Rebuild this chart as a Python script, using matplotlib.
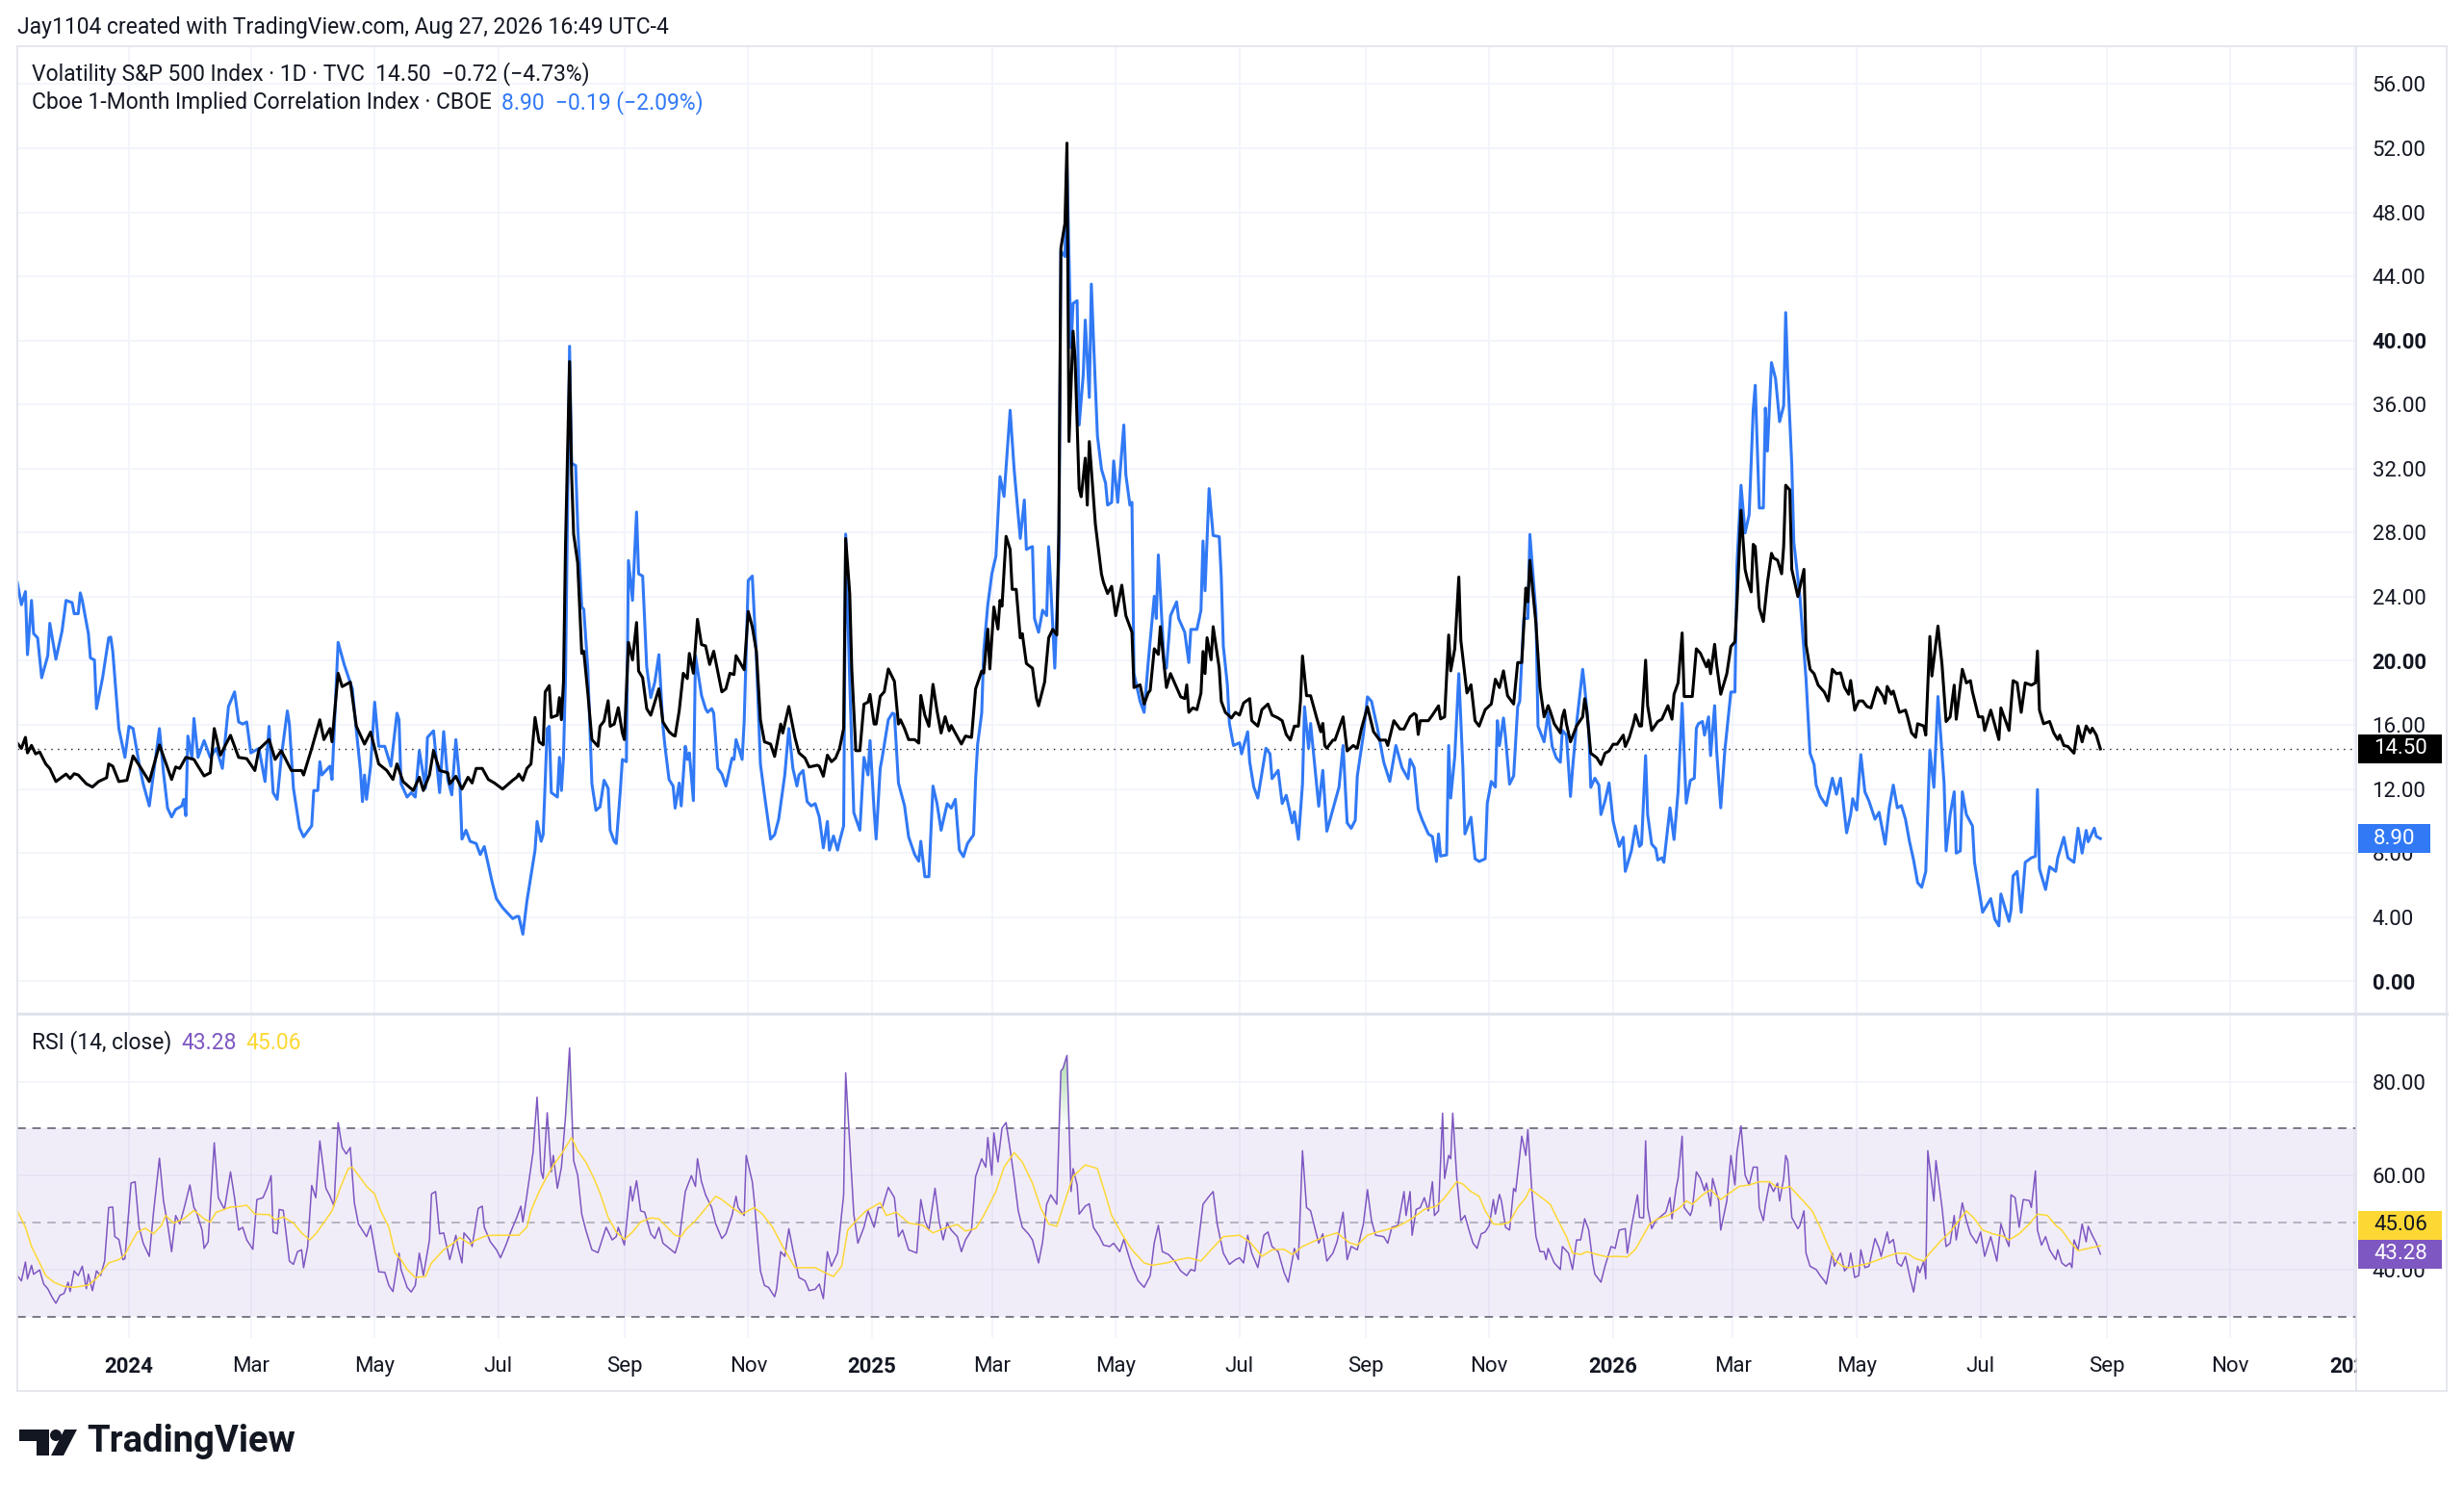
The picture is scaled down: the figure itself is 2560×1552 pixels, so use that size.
import numpy as np
import pandas as pd
import matplotlib
matplotlib.use("Agg")
import matplotlib.pyplot as plt
import matplotlib.dates as mdates
from matplotlib.patches import Rectangle, Polygon, Ellipse
from matplotlib.lines import Line2D
from matplotlib.path import Path
from matplotlib.colors import LinearSegmentedColormap

# all series: x = days counted from 2024-01-01
vix_days = [-55, -53, -51, -50, -48, -46, -44, -41, -39, -36,
            -31, -29, -27, -25, -21, -18, -15, -11, -10, -8,
            -5, -1, 2, 6, 10, 15, 21, 23, 25, 28,
            32, 34, 37, 40, 42, 45, 50, 54, 58, 62,
            64, 69, 72, 75, 80, 85, 86, 90, 94, 96,
            99, 100, 103, 105, 109, 112, 116, 119, 123, 127,
            130, 132, 135, 140, 143, 145, 148, 150, 153, 157,
            158, 161, 164, 167, 169, 171, 174, 177, 180, 184,
            189,
            191, 192, 194, 196, 198, 200, 202, 204, 205, 207,
            208, 211, 212, 213, 214, 215, 217, 218, 219, 221,
            223, 224, 226, 228, 231, 232, 234, 236, 237, 239,
            241, 243, 244, 246, 248, 250, 251, 253, 255, 257,
            261, 263, 266, 268, 269, 271, 273, 275, 276, 278,
            280, 282, 284, 286, 288, 292, 294, 296, 298, 299,
            303, 305, 307, 309, 311, 313, 316, 318, 321, 322,
            325, 328, 330, 333, 335, 339, 340, 342, 344, 346,
            348, 350, 352, 353, 355, 356, 358, 360, 362, 364,
            365, 367, 368, 370, 372, 374, 377, 379, 380, 382,
            384, 387, 389, 390, 392, 394, 396, 398, 400, 402,
            404, 405, 407, 410, 412, 415, 417, 420, 421, 423,
            424, 426, 428, 429, 430, 432, 434, 435, 437, 439,
            440, 442, 444,
            445, 447, 448, 451, 453, 455, 457, 458, 459, 461,
            462, 463, 465, 466, 468, 469, 471, 472, 473, 476,
            479, 480, 482, 484, 486, 489, 491, 494, 495, 498,
            500, 502, 503, 505, 507, 508, 510, 511, 513, 516,
            518, 520, 521, 522, 524, 526, 528, 529, 530, 531,
            533, 534, 537, 538, 540, 543, 545, 547, 549, 552,
            553, 556, 558, 561, 563, 566, 568, 570, 572, 574,
            576, 577, 578, 580, 582, 585, 587, 588, 589, 590,
            593, 594, 598, 600, 603, 605, 607, 610, 613, 616,
            619, 620, 623, 626, 628, 631, 633, 634, 635, 636,
            640, 642, 645, 646, 648, 650, 651, 653, 655, 656,
            659, 661, 663, 665, 668, 671, 673, 675, 677, 679,
            682, 684, 686, 688, 689, 690, 693, 695,
            697, 699, 700, 702, 705, 706, 707, 708, 710, 713,
            716, 717, 718, 720, 723, 725, 727, 729, 731, 733,
            736, 737, 739, 741, 742, 744, 745, 747, 748, 750,
            753, 755, 758, 760, 761, 763, 765, 766, 769, 770,
            772, 774, 777, 778, 779, 781, 782, 784, 787, 789,
            791, 792, 794, 796, 797, 799, 800, 801, 803, 805,
            807, 809, 810, 812, 814, 815, 816, 818, 819, 822,
            825, 826, 828, 830, 832, 835, 837, 839, 841, 843,
            845, 847, 848, 850, 852, 854, 856, 858, 861, 864,
            865, 866, 868, 869, 872, 875, 876, 878, 880, 881,
            884, 885, 887, 888, 891, 893, 895, 897, 899, 900,
            903, 905, 907, 908, 911, 913, 914, 917, 921, 922,
            924, 926, 928, 930, 932, 934, 937, 939, 940, 941,
            943, 946, 948, 950, 951, 953, 955, 958, 960, 962,
            964, 966, 967, 969, 971]
vix_vals = [14.86, 14.53, 15.22, 14.25, 14.72, 14.19, 14.31, 13.56, 13.28, 12.46,
            12.93, 12.65, 12.95, 12.87, 12.32, 12.12, 12.46, 12.70, 13.56, 13.42,
            12.46, 12.54, 14.06, 13.28, 12.46, 14.75, 12.59, 13.37, 13.28, 13.97,
            13.84, 13.42, 12.81, 13.01, 15.77, 14.11, 15.35, 13.97, 13.89, 13.15,
            14.47, 15.08, 13.84, 14.39, 13.15, 13.15, 12.87, 14.53, 16.32, 15.08,
            15.77, 14.94, 19.22, 18.39, 18.67, 15.91, 14.80, 15.55, 13.56, 13.15,
            12.59, 13.56, 12.46, 11.90, 12.73, 11.90, 12.87, 14.39, 13.15, 13.01,
            12.32, 12.79, 11.99, 12.73, 12.37, 13.28, 13.28, 12.59, 12.37, 11.99,
            12.54,
            12.73, 12.93, 12.54, 13.28, 13.56, 16.46, 14.94, 14.75, 18.06, 18.45,
            16.46, 16.60, 17.70, 16.32, 18.67, 27.22, 38.68, 31.64, 27.91, 26.12,
            20.46, 20.60, 17.98, 15.08, 14.66, 15.91, 16.24, 17.51, 15.91, 16.05,
            17.07, 15.49, 15.08, 21.15, 20.05, 22.39, 19.36, 18.94, 17.01, 16.60,
            18.25, 16.18, 15.57, 15.35, 15.30, 16.87, 19.22, 18.89, 20.46, 19.22,
            22.59, 21.01, 20.93, 19.77, 20.60, 18.06, 18.25, 19.22, 19.14, 20.32,
            19.44, 23.08, 22.12, 20.60, 16.32, 14.94, 14.80, 14.03, 16.05, 15.49,
            17.15, 15.22, 14.25, 13.92, 13.37, 13.48, 13.42, 12.79, 14.11, 13.70,
            13.92, 14.53, 15.77, 27.64, 24.19, 19.49, 14.39, 14.39, 17.29, 17.42,
            17.90, 16.05, 16.05, 17.78, 18.06, 19.49, 18.72, 16.05, 16.32, 15.77,
            15.08, 15.08, 14.86, 17.84, 16.60, 15.91, 18.53, 16.87, 15.49, 16.51,
            15.63, 15.96, 15.49, 14.80, 15.30, 15.22, 18.25, 19.36, 19.22, 21.98,
            19.49, 23.36, 21.98, 23.77, 23.41, 27.77, 26.95, 24.46, 24.46, 21.43,
            21.70, 19.83, 19.63,
            19.54, 17.64, 17.19, 18.68, 21.44, 21.96, 21.61, 28.17, 45.76, 47.31,
            52.32, 33.69, 40.58, 38.86, 30.75, 30.24, 32.65, 29.72, 33.69, 28.51,
            25.41, 24.89, 24.20, 24.65, 22.82, 24.72, 22.82, 21.78, 18.33, 18.50,
            17.30, 17.99, 18.16, 20.75, 20.40, 22.13, 19.54, 18.33, 19.20, 18.33,
            17.75, 17.64, 18.50, 16.78, 17.06, 16.95, 17.99, 20.58, 19.20, 21.44,
            20.06, 22.13, 19.54, 17.47, 16.78, 16.43, 16.78, 16.61, 17.37, 17.64,
            16.26, 15.92, 16.95, 17.30, 16.61, 16.43, 16.26, 15.40, 15.05, 15.92,
            15.92, 17.47, 20.30, 17.82, 17.82, 16.43, 15.57, 16.09, 14.71, 14.54,
            15.05, 15.05, 16.50, 14.37, 14.71, 14.54, 15.74, 17.12, 15.57, 15.05,
            15.05, 14.71, 16.26, 15.74, 15.74, 16.50, 16.71, 16.61, 15.40, 16.26,
            16.26, 16.61, 17.19, 16.37, 16.50, 21.61, 19.37, 20.75, 25.23, 21.27,
            17.99, 18.50, 16.26, 15.92, 16.95, 17.30, 18.85, 18.33, 19.37, 17.82,
            17.30, 19.89, 19.89, 24.54, 23.68, 26.27, 22.30, 18.33,
            16.50, 17.20, 16.86, 16.07, 15.50, 16.50, 16.92, 16.07, 14.94, 15.93,
            16.50, 17.63, 16.92, 14.23, 13.94, 13.52, 14.23, 14.37, 14.79, 14.79,
            15.36, 14.65, 15.22, 16.07, 16.64, 15.93, 15.93, 20.04, 17.20, 15.65,
            16.21, 16.35, 17.20, 16.35, 17.91, 18.62, 21.74, 17.77, 17.77, 17.77,
            20.75, 20.47, 19.62, 20.04, 19.19, 21.03, 19.76, 17.91, 19.19, 20.89,
            21.18, 23.59, 29.40, 25.71, 25.15, 24.30, 27.27, 27.13, 23.30, 22.45,
            24.86, 26.71, 26.42, 26.28, 25.43, 27.13, 30.96, 30.67, 25.71, 24.01,
            25.71, 21.03, 19.47, 19.19, 18.48, 18.05, 17.49, 19.47, 19.19, 19.25,
            18.34, 17.91, 18.77, 16.92, 17.49, 17.49, 17.15, 17.06, 18.34, 17.77,
            17.35, 18.40, 17.91, 18.11, 16.78, 16.92, 16.50, 15.50, 15.22, 16.07,
            15.93, 15.36, 21.52, 19.05, 22.17, 19.76, 16.21, 16.50, 18.48, 16.35,
            19.47, 18.62, 18.76, 18.05, 16.50, 16.50, 15.65, 16.92, 15.08, 17.06,
            16.35, 15.65, 18.76, 18.62, 16.78, 18.62, 18.48, 18.62, 20.61, 16.92,
            16.07, 16.21, 15.50, 15.08, 15.36, 14.71, 14.65, 14.23, 15.93, 14.94,
            15.93, 15.50, 15.79, 15.36, 14.50]

corr_days = [-55, -53, -51, -50, -48, -47, -45, -43, -40, -39,
             -36, -33, -31, -28, -27, -25, -24, -23, -20, -19,
             -17, -16, -13, -10, -9, -8, -5, -2, 0, 2,
             5, 7, 10, 15, 17, 19, 21, 23, 26, 27,
             28, 29, 31, 32, 34, 37, 40, 43, 46, 49,
             52, 54, 56, 58, 60, 64, 67, 69, 71, 73,
             75, 78, 79, 81, 84, 86, 90, 91, 93, 94,
             95, 97, 99, 100, 103, 106, 110, 112, 114, 115,
             116, 117, 119, 121, 123, 126, 129, 132, 133, 134,
             137, 139, 141, 143, 146, 147, 150, 153, 155, 157,
             159, 161, 163, 164, 166, 168, 171, 173, 175, 179,
             181, 184, 189,
             191, 192, 194, 196, 200, 201, 203, 204, 206, 207,
             208, 211, 212, 213, 214, 215, 217, 218, 220, 221,
             223, 224, 226, 228, 230, 232, 234, 236, 237, 239,
             240, 242, 243, 245, 246, 248, 250, 251, 253, 255,
             257, 259, 261, 263, 264, 266, 268, 269, 271, 272,
             274, 275, 276, 278, 279, 282, 284, 285, 287, 288,
             290, 292, 294, 297, 298, 299, 302, 303, 305, 307,
             309, 311, 313, 316, 318, 320, 323, 325, 327, 329,
             330, 332, 334, 336, 338, 340, 342, 344, 345, 347,
             349, 350, 352, 353, 355, 357, 360, 362, 364, 365,
             367, 368, 370, 371, 374, 376, 377, 379, 382, 384,
             387, 389, 390, 392, 394, 396, 398, 400, 403, 405,
             407, 409, 411, 413, 416, 417, 418, 420, 421, 423,
             425, 427, 429, 431, 434, 436, 439, 441, 442, 444,
             445, 446, 448, 450, 452, 453, 454, 456, 458, 459,
             461, 462, 464, 465, 467, 468, 470, 471, 473, 474,
             475, 477, 479, 481, 482, 484, 485, 487, 490, 491,
             493, 494, 495, 498, 500, 502, 505, 506, 507, 510,
             511, 513, 516, 517, 520, 522, 523, 526, 528, 529,
             530, 532, 534, 537, 538, 539, 541, 542, 544, 547,
             548, 551, 552, 554, 556, 558, 560, 562, 563, 566,
             568, 570, 573, 574, 576, 578, 579, 581, 582, 586,
             588, 590, 593, 596, 598, 600, 602, 604, 605, 608,
             610, 612, 615, 618, 621, 624, 627, 630, 631, 633,
             635, 637, 640, 642, 644, 645, 646, 649, 650, 651,
             653, 655, 657, 658, 661, 663, 665, 668, 669, 671,
             673, 674, 675, 677, 678, 680, 682, 684, 685, 687,
             689, 690, 693, 694,
             697, 699, 701, 703, 705, 706, 708, 710, 711, 713,
             716, 717, 719, 720, 722, 724, 725, 727, 729, 731,
             734, 736, 737, 740, 742, 744, 745, 747, 748, 750,
             752, 753, 755, 756, 759, 761, 763, 765, 767, 769,
             771, 772, 773, 775, 776, 778, 779, 781, 782, 784,
             786, 789, 791, 792, 794, 796, 798, 800, 801, 803,
             805, 806, 807, 809, 811, 813, 815, 816, 817, 819,
             820, 823, 826, 828, 830, 831, 833, 836, 838, 839,
             841, 843, 846, 848, 849, 851, 853, 855, 857, 860,
             862, 865, 867, 869, 871, 873, 875, 877, 879, 881,
             883, 885, 887, 889, 891, 894, 895, 897, 899, 900,
             902, 903, 905, 908, 909, 911, 913, 915, 917, 919,
             921, 922, 924, 926, 927, 928, 930, 932, 934, 937,
             939, 940, 941, 944, 946, 949, 950, 953, 955, 958,
             960, 962, 964, 965, 968, 969, 971]
corr_vals = [24.88, 23.50, 24.32, 20.38, 23.77, 21.70, 21.43, 18.94, 20.32, 22.34,
             20.10, 21.84, 23.77, 23.63, 22.94, 22.94, 24.24, 23.77, 21.70, 20.18,
             20.05, 17.01, 18.94, 21.43, 21.48, 20.60, 15.77, 13.97, 15.91, 15.77,
             13.56, 12.32, 10.94, 15.77, 13.01, 10.80, 10.25, 10.72, 10.94, 11.35,
             10.33, 15.30, 13.97, 16.40, 13.97, 15.02, 13.97, 14.53, 13.28, 17.15,
             18.06, 16.18, 16.05, 16.18, 14.25, 14.53, 12.46, 15.91, 11.77, 11.35,
             13.97, 16.87, 16.05, 12.04, 9.56, 9.01, 9.70, 11.90, 11.90, 13.70,
             12.87, 13.15, 13.42, 12.59, 21.15, 19.77, 18.25, 15.63, 13.15, 11.21,
             12.87, 11.35, 13.42, 17.42, 14.66, 14.66, 13.42, 16.73, 16.32, 12.32,
             11.49, 11.77, 11.49, 14.39, 12.04, 15.22, 15.63, 11.77, 15.58, 12.59,
             11.63, 15.08, 12.32, 8.87, 9.42, 8.73, 8.59, 7.90, 8.40, 6.11,
             5.14, 4.59, 3.90,
             4.04, 4.04, 2.93, 5.00, 8.18, 9.97, 8.73, 9.14, 15.77, 15.91,
             11.77, 11.49, 13.97, 11.90, 13.97, 18.94, 39.64, 32.33, 32.19, 28.46,
             23.36, 23.22, 19.49, 12.32, 10.66, 10.88, 12.54, 12.04, 9.42, 8.73,
             8.59, 11.90, 13.84, 13.70, 26.26, 23.77, 29.29, 25.43, 25.29, 19.63,
             17.70, 18.67, 20.38, 15.91, 14.66, 12.59, 12.18, 10.80, 12.37, 10.94,
             14.66, 13.84, 14.25, 11.27, 20.32, 17.84, 17.01, 16.79, 17.01, 16.73,
             13.28, 12.93, 12.18, 13.92, 13.84, 15.08, 13.84, 16.18, 25.01, 25.29,
             20.32, 13.56, 11.63, 8.87, 9.14, 10.11, 12.87, 15.77, 13.28, 12.18,
             12.87, 13.15, 11.21, 10.94, 11.08, 10.25, 8.32, 9.97, 8.18, 9.06,
             8.18, 8.73, 9.70, 27.91, 18.67, 10.52, 9.42, 13.97, 12.87, 15.02,
             10.66, 8.87, 13.28, 13.97, 16.32, 16.73, 16.68, 12.37, 10.94, 9.01,
             7.90, 7.49, 8.73, 6.52, 6.52, 12.18, 11.08, 9.42, 11.08, 10.80,
             11.35, 8.18, 7.77, 8.59, 9.14, 12.59, 14.80, 16.73, 20.60, 23.50,
             25.43, 26.53, 31.50, 30.26, 35.64, 31.91, 27.64, 30.04, 26.95, 27.08,
             27.13, 22.64, 21.78, 23.16, 22.82, 27.13, 24.72, 19.54, 26.44, 45.59,
             45.24, 50.93, 39.55, 42.31, 42.48, 34.72, 37.83, 41.27, 36.44, 43.52,
             40.24, 34.03, 31.96, 31.10, 29.72, 29.89, 32.48, 29.89, 34.72, 31.61,
             29.72, 29.89, 19.20, 17.47, 16.78, 19.89, 24.03, 22.64, 26.61, 19.54,
             19.54, 22.82, 23.68, 22.64, 21.78, 19.89, 21.96, 21.96, 23.16, 27.48,
             24.37, 30.75, 27.82, 27.75, 25.23, 20.92, 18.50, 16.09, 14.71, 14.88,
             14.19, 15.57, 13.68, 12.12, 11.43, 12.98, 14.54, 14.19, 12.64, 13.16,
             11.09, 11.60, 9.88, 10.57, 8.85, 12.30, 17.13, 14.54, 16.09, 10.92,
             13.16, 9.36, 10.74, 12.12, 14.71, 9.88, 9.54, 10.05, 12.81, 15.40,
             17.75, 17.47, 15.74, 13.68, 12.47, 14.71, 13.33, 12.64, 13.85, 13.33,
             10.74, 10.05, 9.19, 9.02, 7.47, 9.19, 7.81, 7.88, 14.71, 11.43,
             14.02, 19.20, 13.33, 9.19, 10.23, 7.64, 7.47, 7.64, 11.09, 12.47,
             12.12, 16.26, 14.71, 16.43, 15.23, 12.30, 12.81, 17.13, 17.47, 22.64,
             22.64, 27.89, 22.99, 15.92,
             14.94, 16.78, 14.65, 13.94, 13.66, 15.65, 15.36, 11.53, 13.23, 16.07,
             19.47, 18.34, 15.65, 12.10, 12.67, 12.24, 10.40, 11.25, 12.38, 9.97,
             8.41, 8.98, 6.85, 8.13, 9.69, 8.41, 8.55, 14.08, 10.40, 8.55,
             8.27, 7.56, 7.70, 7.42, 10.82, 8.84, 11.82, 17.35, 11.11, 12.53,
             12.67, 15.79, 16.07, 16.21, 15.36, 16.50, 14.08, 17.20, 14.37, 10.82,
             14.37, 18.05, 18.05, 26.00, 30.96, 27.98, 29.12, 35.64, 37.20, 29.54,
             29.54, 35.78, 33.09, 38.62, 37.62, 34.93, 35.92, 41.74, 37.91, 32.24,
             27.41, 24.01, 18.91, 14.23, 13.52, 12.24, 11.53, 10.96, 12.10, 12.67,
             11.67, 12.67, 9.26, 10.40, 11.39, 10.68, 14.14, 11.82, 11.25, 10.11,
             10.54, 8.55, 10.82, 12.24, 10.82, 10.96, 10.11, 8.70, 7.56, 6.14,
             5.86, 6.85, 14.43, 12.10, 17.77, 12.38, 8.13, 10.40, 11.82, 7.99,
             8.13, 11.82, 10.40, 9.69, 7.42, 5.86, 4.30, 4.73, 5.15, 3.87,
             3.45, 5.44, 4.59, 3.73, 4.44, 6.57, 6.85, 4.30, 7.42, 7.70,
             7.79, 11.96, 7.00, 5.72, 7.14, 6.85, 7.70, 8.98, 7.70, 7.42,
             9.55, 7.99, 9.41, 8.70, 9.55, 9.04, 8.90]

rsi_days = [-55, -53, -51, -50, -48, -47, -44, -42, -40, -38,
            -36, -34, -32, -30, -29, -27, -25, -23, -21, -20,
            -18, -16, -14, -12, -10, -8, -7, -5, -3, -2,
            1, 3, 5, 7, 10, 12, 15, 17, 19, 21,
            23, 25, 27, 30, 32, 33, 36, 37, 39, 42,
            44, 47, 50, 52, 54, 56, 58, 61, 63, 66,
            68, 70, 71, 73, 74, 76, 79, 81, 83, 85,
            86, 88, 90, 92, 94, 97, 99, 101, 103, 105,
            107, 109, 111, 113, 117, 119, 121, 123, 126, 128,
            130, 133, 134, 137, 139, 141, 143, 145, 148, 149,
            151, 153, 155, 158, 161, 162, 164, 165, 168, 169,
            172, 174, 175, 178, 181, 183, 186, 188, 191, 193,
            194, 196, 199, 201, 203, 204, 206, 208, 209, 211,
            213, 215, 217, 219, 221, 223, 225, 228, 231, 233,
            235, 238, 240, 241, 244, 247, 248, 250, 252, 254,
            257, 259, 261, 263, 265, 269, 271, 274, 277, 279,
            280, 282, 284,
            287, 289, 292, 294, 297, 299, 300, 303, 304, 307,
            308, 311, 313, 315, 318, 319, 321, 323, 325, 327,
            330, 333, 335, 338, 340, 342, 344, 346, 349, 352,
            353, 355, 357, 359, 362, 364, 367, 369, 371, 374,
            377, 379, 381, 384, 388, 390, 392, 394, 397, 399,
            401, 403, 405, 408, 410, 412, 415, 417, 420, 422,
            423, 425, 426, 428, 430, 432, 434, 436, 438, 440,
            443, 445, 448, 450, 452, 454, 457, 459, 460, 462,
            464, 465, 467, 468, 471, 473, 475, 478, 480, 483,
            485, 488, 490, 492, 494, 497, 500, 503, 505, 507,
            509, 512, 515, 518, 521, 523, 525, 529, 532, 534,
            536, 539, 542, 545, 547, 549, 551, 553, 556, 559,
            561, 563, 566, 569, 571, 574, 576, 578, 580, 582,
            584, 586, 588, 590, 593, 595, 598, 600, 602, 605,
            608, 610, 612, 614, 618, 620, 622,
            625, 628, 629, 631, 632, 634, 636, 638, 640, 642,
            643, 645, 647, 648, 650, 651, 652, 654, 656, 658,
            660, 662, 664, 666, 668, 670, 672, 673, 675, 676,
            678, 680, 682, 683, 685, 686, 688, 689, 691, 693,
            695, 697, 698, 699, 702, 705, 706, 709, 711, 713,
            715, 717, 719, 721, 722, 725, 727, 730, 732, 734,
            737, 738, 740, 743, 744, 746, 747, 748, 750, 752,
            755, 757, 759, 760, 762, 763, 765, 766, 769, 770,
            772, 774, 776, 777, 779, 780, 783, 784, 787, 789,
            791, 792, 794, 796, 798, 800, 802, 803, 805, 806,
            808, 810, 812, 813, 815, 816, 817, 819, 822, 823,
            825, 826, 828, 831, 833, 835, 836, 839, 840, 843,
            845, 847, 848, 850, 852, 853, 855, 857, 860, 862,
            863, 866, 867, 869, 871, 873, 875, 877, 879, 881,
            882, 884, 885, 886, 889, 890, 893, 895, 897, 899,
            900, 903, 905, 907, 910, 912, 914, 917, 920, 922,
            924, 926, 927, 929, 931, 933, 936, 937, 939, 940,
            942, 944, 946, 949, 950, 952, 954, 956, 957, 958,
            960, 962, 964, 965, 967, 969, 971]
rsi_vals = [38.7, 37.6, 41.6, 38.0, 40.9, 39.0, 39.9, 36.9, 35.9, 34.2,
            32.8, 34.5, 34.9, 37.3, 35.3, 39.7, 38.7, 40.7, 35.9, 39.0,
            35.5, 39.7, 38.7, 41.8, 53.2, 53.3, 47.0, 46.4, 42.1, 42.3,
            58.4, 58.7, 49.0, 45.6, 42.8, 51.8, 63.7, 54.6, 49.7, 43.8,
            51.5, 49.7, 52.8, 58.0, 53.2, 52.5, 48.4, 44.5, 45.9, 67.0,
            55.3, 52.8, 60.8, 55.3, 48.4, 49.0, 46.3, 44.3, 54.9, 55.3,
            57.3, 60.0, 48.0, 47.6, 52.8, 52.6, 41.8, 41.1, 43.8, 44.2,
            40.4, 44.9, 57.9, 55.3, 67.4, 57.3, 55.6, 53.5, 71.3, 66.0,
            64.6, 66.0, 54.2, 49.7, 47.0, 49.4, 44.5, 39.5, 39.4, 36.6,
            35.3, 43.5, 40.0, 36.2, 35.2, 36.6, 43.5, 38.7, 46.3, 56.1,
            56.6, 47.6, 47.8, 42.1, 47.3, 44.9, 41.4, 47.8, 46.3, 44.9,
            53.0, 53.5, 49.0, 45.9, 44.2, 42.5, 45.6, 48.0, 51.1, 53.5,
            50.1, 55.9, 64.9, 76.7, 60.8, 59.4, 73.4, 60.8, 64.3, 57.3,
            61.8, 72.6, 87.2, 63.2, 60.1, 51.8, 48.4, 44.2, 43.6, 46.3,
            49.0, 46.3, 47.0, 49.0, 45.2, 57.7, 54.6, 58.9, 52.5, 52.2,
            47.6, 46.6, 49.0, 45.6, 44.9, 43.5, 46.3, 56.6, 60.0, 57.7,
            63.6, 58.7, 55.9,
            53.2, 49.7, 46.6, 47.6, 51.5, 55.6, 53.2, 51.5, 64.3, 58.7,
            54.6, 39.7, 36.6, 36.2, 34.2, 35.9, 43.8, 42.8, 48.7, 44.2,
            38.3, 37.6, 35.5, 35.8, 36.9, 33.8, 43.8, 40.7, 43.5, 55.9,
            81.9, 67.0, 51.8, 45.6, 49.0, 52.5, 49.0, 53.2, 53.2, 57.5,
            55.3, 47.0, 48.4, 44.2, 43.5, 54.9, 50.4, 48.4, 57.3, 50.4,
            46.3, 49.9, 48.4, 47.0, 43.8, 46.3, 48.4, 59.8, 63.6, 61.8,
            68.1, 60.1, 69.1, 62.9, 70.1, 71.3, 65.6, 59.4, 52.5, 49.0,
            47.6, 46.3, 41.4, 45.9, 53.9, 55.9, 53.9, 82.3, 82.8, 85.6,
            56.6, 61.5, 58.0, 51.8, 53.5, 54.0, 49.0, 47.0, 45.2, 44.9,
            45.6, 43.8, 46.4, 43.5, 40.7, 37.6, 36.2, 38.7, 45.7, 49.4,
            43.8, 43.2, 41.8, 39.7, 38.7, 40.0, 39.7, 53.9, 55.6, 56.6,
            49.7, 43.5, 41.1, 42.1, 42.5, 41.4, 47.3, 43.5, 40.4, 47.3,
            48.0, 44.9, 43.8, 39.3, 37.3, 44.5, 42.1, 65.3, 53.2, 52.5,
            49.0, 45.6, 47.6, 41.8, 43.5, 45.9, 52.2, 42.1, 44.9, 44.2,
            49.7, 57.0, 50.4, 47.3, 47.0, 45.6, 49.0,
            49.4, 56.6, 51.5, 56.6, 47.3, 52.8, 53.2, 55.3, 52.5, 58.7,
            51.5, 52.5, 73.3, 59.4, 64.3, 63.6, 73.3, 59.4, 50.4, 51.5,
            48.4, 45.6, 44.5, 47.6, 48.0, 49.4, 54.9, 51.8, 56.0, 54.6,
            49.0, 48.4, 57.3, 56.6, 64.3, 68.4, 64.3, 69.8, 56.6, 47.0,
            43.8, 43.8, 42.1, 44.5, 41.4, 40.0, 44.9, 43.5, 40.0, 46.3,
            46.3, 50.8, 48.4, 41.4, 39.0, 37.3, 40.7, 44.9, 44.5, 48.4,
            48.7, 43.5, 49.0, 55.9, 51.1, 51.0, 67.4, 53.2, 48.7, 50.4,
            51.5, 52.2, 55.3, 50.8, 57.3, 59.4, 68.4, 53.2, 51.5, 52.8,
            60.8, 59.4, 56.8, 58.4, 53.5, 59.4, 54.6, 48.4, 54.6, 64.3,
            58.0, 65.0, 70.6, 60.1, 58.0, 61.8, 61.8, 53.2, 50.4, 53.9,
            58.4, 56.6, 58.4, 54.6, 59.4, 64.3, 63.2, 51.1, 48.7, 49.4,
            52.5, 43.5, 40.7, 40.0, 38.7, 37.6, 36.9, 43.5, 40.7, 43.5,
            39.7, 40.7, 43.5, 38.3, 38.7, 44.2, 40.4, 40.7, 46.6, 44.5,
            42.8, 48.0, 45.6, 46.4, 41.4, 40.7, 42.8, 38.7, 35.2, 40.7,
            39.3, 41.8, 38.0, 65.3, 54.6, 63.2, 53.2, 44.9, 45.6, 51.5,
            46.3, 54.2, 50.4, 47.6, 45.6, 48.0, 42.8, 47.0, 41.8, 49.7,
            47.0, 44.9, 55.9, 55.3, 49.0, 54.9, 54.7, 53.2, 61.0, 48.4,
            45.2, 47.0, 44.2, 42.1, 44.2, 41.4, 40.7, 41.4, 40.4, 46.3,
            44.2, 49.7, 45.9, 49.2, 47.3, 45.6, 43.28]

rsi_ma_days = [-55, -51, -48, -44, -41, -37, -32, -27, -20, -16,
               -10, -5, -2, 1, 4, 8, 12, 16, 18, 22,
               27, 32, 37, 40, 43, 50, 54, 58, 62, 69,
               72, 76, 81, 85, 89, 92, 95, 100, 104, 108,
               110, 113, 117, 121, 124, 128, 131, 134, 137, 141,
               146, 149, 155, 160, 163, 168, 171, 176, 181, 187,
               192, 196, 198, 202, 205, 209, 213, 216, 218, 221,
               225, 229, 232, 236, 240, 244, 248, 252, 257, 261,
               265, 269, 272, 274, 279, 285,
               289, 292, 297, 302, 308, 312, 317, 322, 328, 331,
               338, 342, 347, 351, 354, 359, 363, 370, 373, 378,
               384, 391, 396, 401, 408, 412, 417, 421, 427, 431,
               436, 440, 445, 449, 453, 457, 461, 465, 471, 477,
               481, 484, 489, 494, 500, 504, 511, 517, 522, 528,
               533, 539, 547, 552, 558, 563, 569, 573, 578, 583,
               589, 595, 601, 605, 610, 615, 624,
               629, 634, 638, 644, 648, 651, 654, 657, 661, 665,
               668, 672, 676, 680, 684, 688, 690, 694, 698, 700,
               704, 708, 711, 715, 718, 723, 728, 732, 738, 742,
               745, 749, 753, 758, 764, 767, 770, 775, 779, 784,
               789, 793, 798, 803, 808, 811, 815, 818, 821, 824,
               829, 833, 837, 840, 844, 847, 855, 860, 866, 871,
               876, 880, 884, 887, 892, 897, 902, 905, 909, 913,
               918, 923, 926, 931, 936, 940, 945, 949, 952, 956,
               960, 965, 971]
rsi_ma_vals = [52.5, 49.0, 44.9, 41.4, 38.7, 37.3, 36.4, 36.2, 36.7, 38.1,
               41.4, 42.1, 43.2, 45.6, 47.9, 48.8, 47.6, 49.4, 51.5, 49.9,
               50.8, 52.6, 50.8, 50.1, 52.2, 53.3, 53.4, 53.7, 51.8, 51.7,
               50.6, 51.2, 49.9, 47.8, 46.3, 47.6, 49.4, 52.5, 57.3, 61.5,
               61.8, 60.1, 57.7, 56.1, 52.5, 49.0, 43.5, 42.1, 40.0, 38.3,
               38.5, 41.4, 44.2, 45.7, 46.8, 45.4, 46.3, 47.2, 47.3, 47.3,
               47.3, 49.0, 52.5, 56.6, 59.1, 62.2, 64.6, 66.7, 68.1, 65.3,
               62.9, 59.4, 56.3, 51.1, 48.0, 46.4, 48.0, 50.1, 51.0, 50.8,
               49.0, 47.3, 47.0, 48.4, 50.4, 53.5,
               55.6, 54.9, 53.2, 51.8, 53.2, 51.8, 49.0, 44.9, 40.4, 40.4,
               40.4, 39.5, 38.5, 40.7, 48.4, 50.8, 52.5, 54.2, 51.5, 52.2,
               49.9, 49.4, 47.8, 48.7, 49.6, 48.2, 48.7, 51.5, 56.6, 61.8,
               64.9, 62.9, 58.4, 53.2, 49.7, 49.2, 54.6, 59.8, 62.3, 61.5,
               55.9, 51.5, 47.6, 44.2, 41.4, 40.9, 41.4, 42.1, 42.5, 41.8,
               44.2, 47.0, 47.3, 45.9, 42.8, 44.2, 44.3, 43.2, 44.9, 45.9,
               47.0, 47.8, 45.7, 45.2, 47.3, 48.0, 49.0,
               50.1, 51.5, 52.8, 53.5, 55.3, 57.0, 58.7, 58.2, 56.6, 55.6,
               52.5, 49.7, 49.6, 50.1, 53.2, 55.3, 57.2, 55.9, 54.6, 53.9,
               50.4, 47.0, 43.5, 43.2, 43.8, 43.2, 42.7, 42.8, 42.7, 44.3,
               46.6, 49.7, 50.8, 51.5, 53.2, 54.6, 53.9, 55.9, 57.0, 54.9,
               56.5, 57.7, 58.0, 58.7, 58.7, 57.7, 57.3, 57.7, 56.3, 54.9,
               52.5, 49.0, 44.9, 42.1, 40.7, 40.4, 41.1, 41.8, 42.8, 43.5,
               43.4, 42.3, 41.8, 43.5, 45.9, 48.0, 50.8, 52.5, 50.8, 48.4,
               47.6, 47.1, 46.3, 47.6, 49.7, 51.8, 51.5, 49.4, 48.4, 45.9,
               44.0, 44.5, 45.06]

price_ticks = [0, 4, 8, 12, 16, 20, 24, 28, 32, 36, 40, 44, 48, 52, 56]
bold_prices = [0, 20, 40]
rsi_ticks = [40, 60, 80]
rsi_levels = [30, 50, 70]
time_ticks = ["2024-01-01", "2024-03-01", "2024-05-01", "2024-07-01", "2024-09-01", "2024-11-01",
              "2025-01-01", "2025-03-01", "2025-05-01", "2025-07-01", "2025-09-01", "2025-11-01",
              "2026-01-01", "2026-03-01", "2026-05-01", "2026-07-01", "2026-09-01", "2026-11-01",
              "2027-01-01"]
time_labels = ["2024", "Mar", "May", "Jul", "Sep", "Nov",
               "2025", "Mar", "May", "Jul", "Sep", "Nov",
               "2026", "Mar", "May", "Jul", "Sep", "Nov", "2027"]

BASE = pd.Timestamp("2024-01-01")


def to_dates(days):
    return BASE + pd.to_timedelta(np.asarray(days, dtype=float), unit="D")


W, H = 2560, 1552
INK = "#131722"
BLUE = "#3179F5"
PURPLE = "#7E57C2"
YELLOW = "#FDD835"
GRID = "#f0f3fa"
FRAME = "#e0e3eb"
TXT = 16.5   # legend / header size
TICK = 16    # axis label size

plt.rcParams["font.family"] = ["Roboto", "DejaVu Sans"]

fig = plt.figure(figsize=(W / 100, H / 100), dpi=100, facecolor="white")


def frac(x0, y0, x1, y1):
    return [x0 / W, 1 - y1 / H, (x1 - x0) / W, (y1 - y0) / H]


ax = fig.add_axes(frac(18, 48, 2448, 1053))
axr = fig.add_axes(frac(18, 1053, 2448, 1390), sharex=ax)

# main pane
ax.plot(to_dates(corr_days), corr_vals, color=BLUE, lw=2.2, zorder=3)
ax.plot(to_dates(vix_days), vix_vals, color="black", lw=2.2, zorder=4)
ax.axhline(vix_vals[-1], color=INK, lw=1.0, ls=(0, (1, 4)), zorder=2)

# rsi pane
rsi_t = to_dates(rsi_days)
rv = np.asarray(rsi_vals)
axr.axhspan(rsi_levels[0], rsi_levels[2], color=PURPLE, alpha=0.1, lw=0, zorder=1)
for lvl, a in zip(rsi_levels, [1.0, 0.5, 1.0]):
    axr.axhline(lvl, color="#787B86", alpha=a, lw=1.4, ls=(0, (4.5, 3.5)), zorder=2)
axr.plot(rsi_t, rv, color=PURPLE, lw=1.1, zorder=4)
axr.plot(to_dates(rsi_ma_days), rsi_ma_vals, color=YELLOW, lw=1.1, zorder=5)

# overbought gradient fill
xnum = mdates.date2num(rsi_t)
fb = axr.fill_between(xnum, rv, 70, where=rv > 70, interpolate=True,
                      facecolor="none", edgecolor="none")
paths = fb.get_paths()
if paths:
    clip = Path.make_compound_path(*paths)
    cmap = LinearSegmentedColormap.from_list(
        "ob", [(0.30, 0.69, 0.31, 0.0), (0.30, 0.69, 0.31, 0.9)])
    im = axr.imshow(np.linspace(0, 1, 256).reshape(-1, 1),
                    extent=(xnum[0], xnum[-1], 70, 100), origin="lower",
                    aspect="auto", cmap=cmap, zorder=3)
    im.set_clip_path(clip, transform=axr.transData)

ax.set_xlim(to_dates([-55])[0], to_dates([1097])[0])
ax.set_ylim(-2.03, 58.37)
axr.set_ylim(25.4, 94.5)

for a in (ax, axr):
    for s in a.spines.values():
        s.set_visible(False)
    a.set_facecolor("none")
    a.grid(True, color=GRID, lw=1.1)
    a.set_axisbelow(True)
    a.yaxis.tick_right()
    a.tick_params(axis="y", length=0, pad=12, labelsize=TICK, labelcolor=INK)

ax.set_yticks(price_ticks)
ylabs = ax.set_yticklabels([f"{v:.2f}" for v in price_ticks])
for lab, v in zip(ylabs, price_ticks):
    if v in bold_prices:
        lab.set_fontweight("bold")
axr.set_yticks(rsi_ticks)
axr.set_yticklabels([f"{v:.2f}" for v in rsi_ticks])

axr.set_xticks(pd.to_datetime(time_ticks))
xlabs = axr.set_xticklabels(time_labels)
for lab in xlabs:
    if lab.get_text().isdigit():
        lab.set_fontweight("bold")
axr.tick_params(axis="x", length=0, pad=14, labelsize=TICK, labelcolor=INK)
ax.tick_params(axis="x", length=0, labelbottom=False)

# frame and separators
def fline(x0, y0, x1, y1, lw, z=8):
    fig.add_artist(Line2D([x0 / W, x1 / W], [1 - y0 / H, 1 - y1 / H],
                          transform=fig.transFigure, color=FRAME, lw=lw, zorder=z))

fig.add_artist(Rectangle((2449 / W, 1 - 1444 / H), 92 / W, 52 / H, transform=fig.transFigure,
                         facecolor="white", edgecolor="none", zorder=7))
BOTTOM = 1445
fline(18, 48, 2542, 48, 1.2)
fline(18, BOTTOM, 2542, BOTTOM, 1.2)
fline(18, 48, 18, BOTTOM, 1.2)
fline(2542, 48, 2542, BOTTOM, 1.2)
fline(2448, 48, 2448, BOTTOM, 1.2)
fline(18, 1053, 2542, 1053, 2.2)

renderer = fig.canvas.get_renderer()


def text_row(x, y, parts, size=TXT, gap=10):
    for s, c in parts:
        t = fig.text(x / W, 1 - y / H, s, color=c, fontsize=size, va="center", ha="left")
        x = t.get_window_extent(renderer).x1 + gap


text_row(18, 28, [("Jay1104 created with TradingView.com, Aug 27, 2026 16:49 UTC-4", INK)])
text_row(33, 77, [("Volatility S&P 500 Index · 1D · TVC  14.50  −0.72 (−4.73%)", INK)])
text_row(33, 107, [("Cboe 1-Month Implied Correlation Index · CBOE", INK),
                   ("8.90  −0.19 (−2.09%)", BLUE)])
text_row(33, 1083, [("RSI (14, close)", INK), ("43.28", PURPLE), ("45.06", YELLOW)])


def price_tag(axis, value, label, bg, fg, shift=0.0, h=30):
    y = axis.transData.transform((0, value))[1] + shift
    t = fig.text(2466 / W, y / H, label, fontsize=TICK, color=fg, va="center", ha="left", zorder=12)
    bb = t.get_window_extent(renderer)
    fig.add_artist(Rectangle((2450 / W, (y - h / 2) / H), (bb.x1 + 15 - 2450) / W, h / H,
                             transform=fig.transFigure, facecolor=bg, edgecolor="none", zorder=11))


price_tag(ax, vix_vals[-1], f"{vix_vals[-1]:.2f}", "black", "white")
price_tag(ax, corr_vals[-1], f"{corr_vals[-1]:.2f}", BLUE, "white")
price_tag(axr, rsi_vals[-1], f"{rsi_vals[-1]:.2f}", PURPLE, "white")
price_tag(axr, rsi_vals[-1], f"{rsi_ma_vals[-1]:.2f}", YELLOW, INK, shift=30)

# TradingView logo
def P(x, y):
    return (x / W, 1 - y / H)

LY = 9  # logo drop
fig.add_artist(Polygon([P(20, 1476 + LY), P(51, 1476 + LY), P(51, 1503 + LY), P(38, 1503 + LY),
                        P(38, 1488 + LY), P(20, 1488 + LY)],
                       closed=True, transform=fig.transFigure, facecolor=INK, edgecolor="none"))
fig.add_artist(Ellipse(P(58, 1482 + LY), 12 / W, 12 / H, transform=fig.transFigure,
                       facecolor=INK, edgecolor="none"))
fig.add_artist(Polygon([P(67, 1476 + LY), P(80, 1476 + LY), P(66, 1503 + LY), P(53, 1503 + LY)],
                       closed=True, transform=fig.transFigure, facecolor=INK, edgecolor="none"))
fig.text(90 / W, 1 - (1489 + LY) / H, "TradingView", fontsize=27.5, fontweight="bold", color=INK,
         va="center", ha="left")

fig.savefig("out.png", dpi=100, facecolor="white")
